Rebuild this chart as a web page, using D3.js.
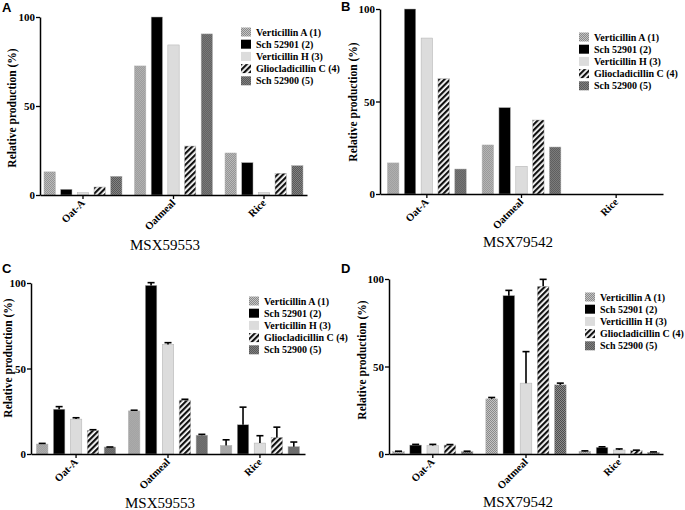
<!DOCTYPE html>
<html><head><meta charset="utf-8">
<script src="https://cdn.jsdelivr.net/npm/d3@7"></script>
<style>body{margin:0;background:#fff;} svg{display:block;}</style>
</head><body>
<script>
// ---------- DATA ----------
const categories = ["Oat-A", "Oatmeal", "Rice"];
const seriesNames = ["Verticillin A (1)", "Sch 52901 (2)", "Verticillin H (3)", "Gliocladicillin C (4)", "Sch 52900 (5)"];
const yTicks = [0, 50, 100];

// values per category, in series order
const valuesA = [[13, 3.2, 1.3, 4.5, 10.5], [72.5, 100, 84.3, 27.5, 90.5], [23.6, 18.2, 1.3, 12.2, 16.5]];
const valuesB = [[16.8, 100, 84.3, 62.3, 13.5], [26.5, 46.7, 15, 40, 25.4], [0, 0, 0, 0, 0]];
const valuesC = [[5.8, 26.2, 20.4, 13.8, 4.1], [25.2, 98.6, 64.1, 31.5, 11], [5, 17.1, 6.4, 9.7, 4.3]];
const errorsC = [[0.4, 1.5, 0.8, 0.4, 0], [0.4, 1.6, 1, 0.5, 0.5], [3.3, 10.3, 4.3, 6, 2.7]];
const valuesD = [[1.3, 5.1, 4.8, 5.1, 1.3], [31.5, 90.5, 40.5, 95.8, 39.5], [1.5, 3.8, 2.3, 1.9, 1]];
const errorsD = [[0.3, 0.4, 0.7, 0.3, 0.3], [0.8, 3, 18, 4, 1], [0.3, 0.3, 0.6, 0.3, 0.2]];

const panelTitles = ["MSX59553", "MSX79542", "MSX59553", "MSX79542"];
const panelLetters = ["A", "B", "C", "D"];

// ---------- LAYOUT ----------
const panels = [
  {letter: panelLetters[0], title: panelTitles[0], values: valuesA, errors: null,
   x0: 40, x1: 307, y0: 195, y100: 17, pi: 0.12, po: 0.035, letterXY: [2, 12], titleXY: [165, 250],
   ylab: [12, 108], legend: [241, 32, 12.2]},
  {letter: panelLetters[1], title: panelTitles[1], values: valuesB, errors: null,
   x0: 380, x1: 663, y0: 194, y100: 9, pi: 0.15, po: 0.07, letterXY: [341, 11], titleXY: [518, 247],
   ylab: [353, 102], legend: [579, 37, 12.2]},
  {letter: panelLetters[2], title: panelTitles[2], values: valuesC, errors: errorsC,
   x0: 31, x1: 305, y0: 454, y100: 283, pi: 0.12, po: 0.05, letterXY: [2, 273], titleXY: [160, 508],
   ylab: [8, 358], legend: [249, 301, 12.2]},
  {letter: panelLetters[3], title: panelTitles[3], values: valuesD, errors: errorsD,
   x0: 389, x1: 663, y0: 454, y100: 279, pi: 0.12, po: 0.03, letterXY: [341, 273], titleXY: [518, 507],
   ylab: [362, 360], legend: [585, 297, 12.2]}
];

const serif = "'Liberation Serif', 'Times New Roman', serif";
const sans = "'Liberation Sans', Arial, sans-serif";

const svg = d3.select("body").append("svg").attr("width", 685).attr("height", 510);
const defs = svg.append("defs");

function checker(id, c1, c2) {
  const p = defs.append("pattern").attr("id", id).attr("patternUnits", "userSpaceOnUse")
    .attr("width", 2).attr("height", 2);
  p.append("rect").attr("width", 2).attr("height", 2).attr("fill", c1);
  p.append("rect").attr("width", 1).attr("height", 1).attr("fill", c2);
  p.append("rect").attr("x", 1).attr("y", 1).attr("width", 1).attr("height", 1).attr("fill", c2);
}
checker("patVA", "#8a8a8a", "#c4c4c4");
checker("patS5", "#4e4e4e", "#8c8c8c");
{
  const p = defs.append("pattern").attr("id", "patG").attr("patternUnits", "userSpaceOnUse")
    .attr("width", 4).attr("height", 4).attr("patternTransform", "rotate(45)");
  p.append("rect").attr("width", 4).attr("height", 4).attr("fill", "#fff");
  p.append("rect").attr("width", 2.2).attr("height", 4).attr("fill", "#111");
}
const fills = ["url(#patVA)", "#000", "#dcdcdc", "url(#patG)", "url(#patS5)"];

panels.forEach(P => {
  const g = svg.append("g");
  const x = d3.scaleBand().domain(categories).range([P.x0, P.x1]).paddingInner(P.pi).paddingOuter(P.po);
  const xi = d3.scaleBand().domain(d3.range(seriesNames.length)).range([0, x.bandwidth()]).paddingInner(0.32).paddingOuter(0.05);
  const y = d3.scaleLinear().domain([0, 100]).range([P.y0, P.y100]);

  // bars
  categories.forEach((cat, ci) => {
    const gg = g.append("g").attr("transform", `translate(${x(cat)},0)`);
    gg.selectAll("rect").data(P.values[ci]).join("rect")
      .attr("x", (d, i) => xi(i)).attr("width", xi.bandwidth())
      .attr("y", d => y(d)).attr("height", d => y(0) - y(d))
      .attr("fill", (d, i) => fills[i])
      .attr("stroke", (d, i) => d > 0 ? "#b0b0b0" : "none").attr("stroke-width", 0.5);
    if (P.errors) {
      const errs = P.errors[ci];
      const eg = gg.selectAll("g.err").data(P.values[ci]).join("g").attr("class", "err");
      eg.append("line")
        .attr("x1", (d, i) => xi(i) + xi.bandwidth() / 2).attr("x2", (d, i) => xi(i) + xi.bandwidth() / 2)
        .attr("y1", d => y(d)).attr("y2", (d, i) => y(d + errs[i]))
        .attr("stroke", "#000").attr("stroke-width", 1.6);
      eg.append("line")
        .attr("x1", (d, i) => xi(i) + xi.bandwidth() / 2 - 3.5).attr("x2", (d, i) => xi(i) + xi.bandwidth() / 2 + 3.5)
        .attr("y1", (d, i) => y(d + errs[i])).attr("y2", (d, i) => y(d + errs[i]))
        .attr("stroke", "#000").attr("stroke-width", 1.6);
    }
  });

  // y axis
  const ya = g.append("g").attr("transform", `translate(${P.x0},0)`)
    .call(d3.axisLeft(y).tickValues(yTicks).tickSize(4).tickSizeOuter(0).tickPadding(1));
  ya.select(".domain").attr("stroke-width", 1.5);
  ya.selectAll(".tick line").attr("stroke-width", 1.3);
  ya.selectAll("text").attr("font-family", serif).attr("font-weight", "bold").attr("font-size", 11).attr("fill", "#000");

  // x axis
  const xa = g.append("g").attr("transform", `translate(0,${P.y0})`)
    .call(d3.axisBottom(x).tickSize(4).tickSizeOuter(0).tickPadding(3));
  xa.select(".domain").attr("stroke-width", 1.5);
  xa.selectAll(".tick line").attr("stroke-width", 1.3);
  xa.selectAll("text").attr("font-family", serif).attr("font-weight", "bold").attr("font-size", 10.5).attr("fill", "#000")
    .attr("text-anchor", "end").attr("dy", "0.35em")
    .attr("transform", "translate(0,6) rotate(-45)").attr("x", 0).attr("y", 0);

  // y label
  g.append("text").attr("transform", `translate(${P.ylab[0]},${P.ylab[1]}) rotate(-90)`)
    .attr("text-anchor", "middle").attr("dy", "0.35em")
    .attr("font-family", serif).attr("font-weight", "bold").attr("font-size", 11.5)
    .text("Relative production (%)");

  // title
  g.append("text").attr("x", P.titleXY[0]).attr("y", P.titleXY[1]).attr("text-anchor", "middle")
    .attr("font-family", serif).attr("font-size", 15).text(P.title);

  // panel letter
  g.append("text").attr("x", P.letterXY[0]).attr("y", P.letterXY[1])
    .attr("font-family", sans).attr("font-weight", "bold").attr("font-size", 13).text(P.letter);

  // legend
  const [lx, ly, ls] = P.legend;
  const lg = g.append("g").attr("transform", `translate(${lx},${ly})`);
  const items = lg.selectAll("g").data(seriesNames).join("g").attr("transform", (d, i) => `translate(0,${i * ls})`);
  items.append("rect").attr("x", 0).attr("y", -4.5).attr("width", 10).attr("height", 9).attr("fill", (d, i) => fills[i]);
  items.append("text").attr("x", 15).attr("y", 0).attr("dy", "0.35em")
    .attr("font-family", serif).attr("font-weight", "bold").attr("font-size", 10).text(d => d);
});
</script>
</body></html>
